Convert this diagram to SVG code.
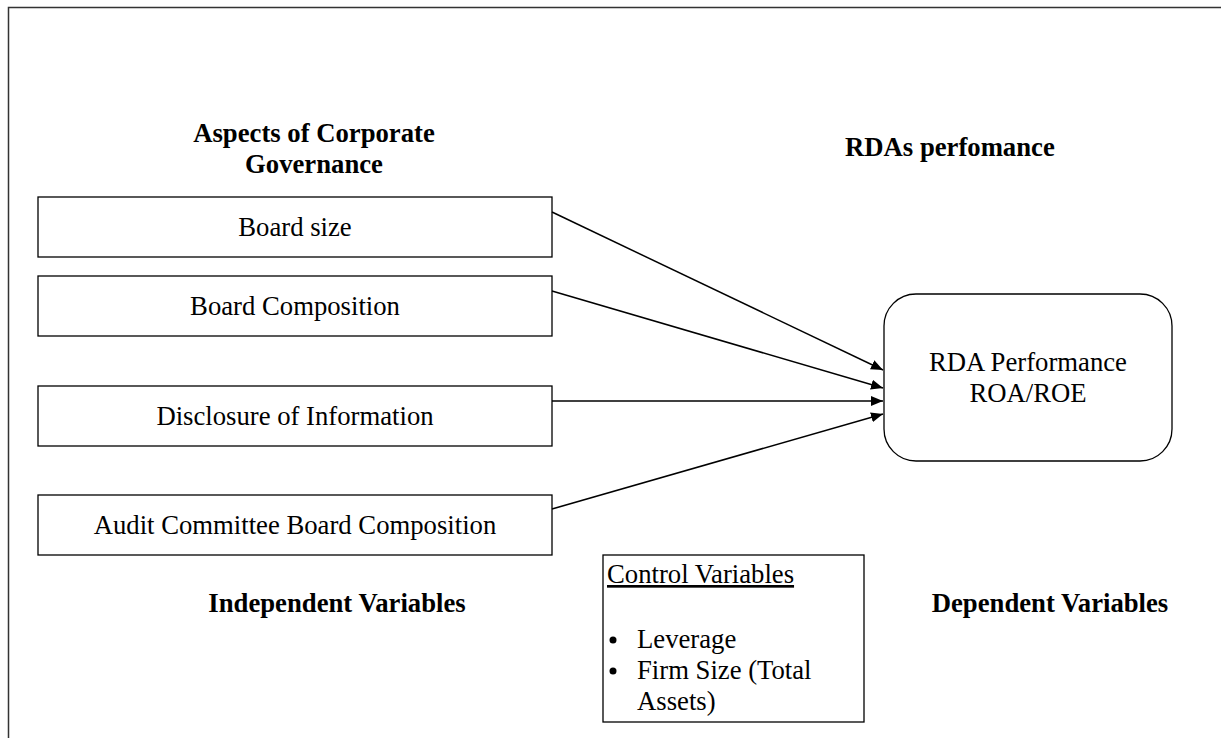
<svg xmlns="http://www.w3.org/2000/svg" width="1221" height="738" viewBox="0 0 1221 738">
<defs>
<style>
.t{font-family:"Liberation Serif","Times New Roman",serif;font-size:26.7px;fill:#000}
.b{font-weight:bold}
.box{fill:#fff;stroke:#000;stroke-width:1.3}
.c{stroke:#000;stroke-width:1.5;fill:none}
</style>
<marker id="ah" viewBox="0 0 12 10" refX="12" refY="5" markerWidth="12" markerHeight="10" markerUnits="userSpaceOnUse" orient="auto">
<path d="M0,0 L12,5 L0,10 z" fill="#000"/>
</marker>
</defs>
<rect width="1221" height="738" fill="#fff"/>
<path d="M8.5,740 V7.5 H1225" fill="none" stroke="#333" stroke-width="1.5"/>

<g id="labels">
<text class="t b" x="314" y="142" text-anchor="middle">Aspects of Corporate</text>
<text class="t b" x="314" y="173" text-anchor="middle">Governance</text>
<text class="t b" x="845" y="156">RDAs perfomance</text>
<text class="t b" x="337" y="612" text-anchor="middle">Independent Variables</text>
<text class="t b" x="1050" y="612" text-anchor="middle">Dependent Variables</text>
</g>

<g id="board-size">
<rect class="box" x="38" y="197" width="514" height="60"/>
<text class="t" x="295" y="236" text-anchor="middle">Board size</text>
</g>
<g id="board-composition">
<rect class="box" x="38" y="276" width="514" height="60"/>
<text class="t" x="295" y="315" text-anchor="middle">Board Composition</text>
</g>
<g id="disclosure">
<rect class="box" x="38" y="386" width="514" height="60"/>
<text class="t" x="295" y="425" text-anchor="middle">Disclosure of Information</text>
</g>
<g id="audit">
<rect class="box" x="38" y="495" width="514" height="60"/>
<text class="t" x="295" y="534" text-anchor="middle">Audit Committee Board Composition</text>
</g>

<g id="rda-performance">
<rect class="box" x="884" y="294" width="288" height="167" rx="32" ry="32"/>
<text class="t" x="1028" y="371" text-anchor="middle">RDA Performance</text>
<text class="t" x="1028" y="402" text-anchor="middle">ROA/ROE</text>
</g>

<g id="control-variables">
<rect class="box" x="603" y="555" width="261" height="167"/>
<text class="t" x="607" y="583" text-decoration="underline">Control Variables</text>
<circle cx="613" cy="640" r="3.5" fill="#000"/>
<text class="t" x="637" y="648">Leverage</text>
<circle cx="613" cy="671" r="3.5" fill="#000"/>
<text class="t" x="637" y="679">Firm Size (Total</text>
<text class="t" x="637" y="710">Assets)</text>
</g>

<g id="connectors">
<line class="c" x1="552" y1="212" x2="883" y2="370" marker-end="url(#ah)"/>
<line class="c" x1="552" y1="291" x2="883" y2="388" marker-end="url(#ah)"/>
<line class="c" x1="552" y1="401" x2="883" y2="401" marker-end="url(#ah)"/>
<line class="c" x1="552" y1="509" x2="883" y2="414" marker-end="url(#ah)"/>
</g>
</svg>
